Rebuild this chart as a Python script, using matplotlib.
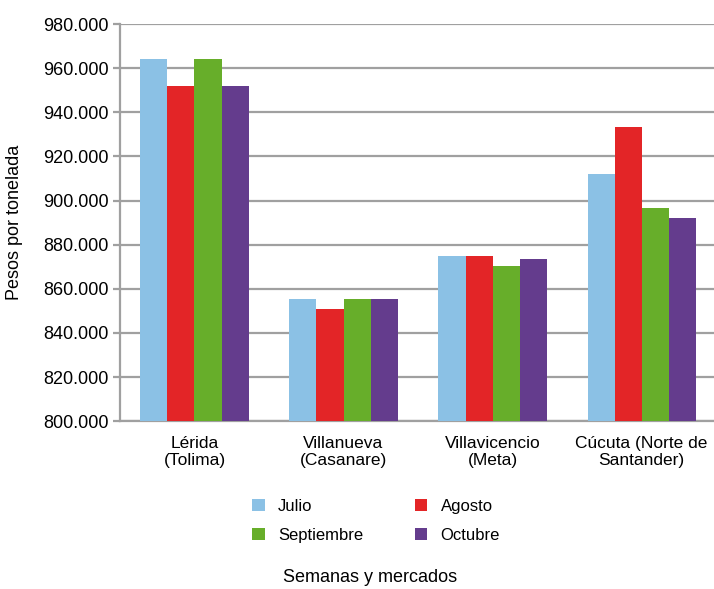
"""
Precio por tonelada en mercados - barras agrupadas por mes
"""

import numpy as np
from matplotlib import pyplot as plt
from matplotlib.ticker import FuncFormatter

plt.rcParams['font.family'] = ['Liberation Sans', 'DejaVu Sans']

mercados = ['Lérida\n(Tolima)', 'Villanueva\n(Casanare)', 'Villavicencio\n(Meta)',
            'Cúcuta (Norte de\nSantander)']
meses = ['Julio', 'Agosto', 'Septiembre', 'Octubre']

julio = [964000, 855500, 875000, 912000]
agosto = [952000, 851000, 875000, 933500]
septiembre = [964000, 855500, 870500, 896500]
octubre = [952000, 855500, 873500, 892000]

colores = ['#8BC1E5', '#E32527', '#67AE2A', '#643C8D']
gris = '#A0A0A0'


def plot():
    fig = plt.figure(figsize=(7.14, 5.89), dpi=100)
    ax = fig.add_axes([0.168, 0.285, 0.835, 0.674])

    x = np.arange(len(mercados))
    w = 0.1815
    series = [julio, agosto, septiembre, octubre]
    barras = []
    for i, (vals, c, lab) in enumerate(zip(series, colores, meses)):
        barras.append(ax.bar(x + (i - 1.5) * w, vals, width=w, color=c, label=lab, zorder=3))

    ax.set_ylim(800000, 980000)
    ax.set_yticks(range(800000, 980001, 20000))
    ax.yaxis.set_major_formatter(FuncFormatter(lambda v, p: f'{v:,.0f}'.replace(',', '.')))
    ax.set_xlim(-0.5, len(mercados) - 0.5)
    ax.set_xticks(x)
    ax.set_xticklabels(mercados, fontsize=12.5, linespacing=1.1)

    ax.grid(axis='y', color=gris, linewidth=1.6, zorder=0)
    for s in ['top', 'right']:
        ax.spines[s].set_visible(False)
    ax.spines['left'].set_color(gris)
    ax.spines['left'].set_linewidth(1.6)
    ax.spines['bottom'].set_color(gris)
    ax.spines['bottom'].set_linewidth(1.6)
    ax.tick_params(axis='y', labelsize=13, color=gris, width=1.6, length=5, pad=3)
    ax.tick_params(axis='x', length=0, pad=11)

    ax.set_ylabel('Pesos por tonelada', fontsize=13)
    ax.yaxis.set_label_coords(-0.163, 0.5)

    # orden por filas: Julio, Agosto / Septiembre, Octubre
    orden = [0, 2, 1, 3]
    fig.legend([barras[i] for i in orden], [meses[i] for i in orden],
               loc='center', bbox_to_anchor=(376 / 714, 1 - 521 / 589), ncol=2,
               frameon=False, fontsize=12, handlelength=0.75, handleheight=0.75,
               columnspacing=3.1, handletextpad=0.8, labelspacing=0.85)
    fig.text(370 / 714, 1 - 578 / 589, 'Semanas y mercados', ha='center',
             va='center', fontsize=13)

    plt.savefig('out.png', dpi=100)


if __name__ == '__main__':
    plot()
